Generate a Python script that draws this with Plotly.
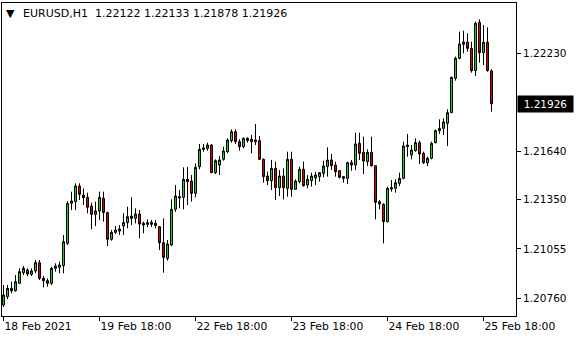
import plotly.graph_objects as go

# Hourly EURUSD candles (H1), oldest first
opens = [1.20718,1.20768,1.20818,1.20804,1.20848,1.20912,1.20928,1.20902,1.20922,1.20972,
         1.20878,1.20864,1.20848,1.20938,1.20944,1.20954,1.21088,1.21328,1.21338,1.21432,
         1.21378,1.21364,1.21312,1.21262,1.21282,1.21358,1.21272,1.21112,1.21154,1.21162,
         1.21192,1.21212,1.21252,1.21238,1.21264,1.21208,1.21202,1.21202,1.21208,1.21188,
         1.21092,1.20998,1.21078,1.21292,1.21368,1.21364,1.21472,1.21462,1.21388,1.21548,
         1.21652,1.21658,1.21678,1.21512,1.21558,1.21592,1.21638,1.21704,1.21758,1.21698,
         1.21668,1.21704,1.21712,1.21698,1.21704,1.21592,1.21492,1.21464,1.21538,1.21422,
         1.21492,1.21418,1.21592,1.21412,1.21458,1.21532,1.21438,1.21464,1.21480,1.21488,
         1.21508,1.21548,1.21588,1.21558,1.21524,1.21488,1.21478,1.21572,1.21558,1.21688,
         1.21634,1.21578,1.21634,1.21554,1.21338,1.21322,1.21218,1.21414,1.21418,1.21448,
         1.21478,1.21668,1.21618,1.21644,1.21692,1.21628,1.21572,1.21598,1.21692,1.21764,
         1.21778,1.21808,1.21872,1.22078,1.22198,1.22282,1.22296,1.22258,1.22124,1.22414,
         1.22232,1.22294,1.22122]
highs = [1.20838,1.20838,1.20858,1.20898,1.20938,1.20952,1.20938,1.20938,1.20988,1.20988,
         1.20892,1.20878,1.20948,1.20968,1.20978,1.21138,1.21342,1.21398,1.21448,1.21448,
         1.21418,1.21392,1.21332,1.21338,1.21398,1.21398,1.21278,1.21168,1.21192,1.21198,
         1.21268,1.21308,1.21364,1.21298,1.21288,1.21218,1.21232,1.21228,1.21228,1.21192,
         1.21238,1.21108,1.21352,1.21438,1.21408,1.21544,1.21546,1.21498,1.21568,1.21684,
         1.21684,1.21692,1.21684,1.21592,1.21612,1.21668,1.21718,1.21772,1.21772,1.21712,
         1.21724,1.21724,1.21738,1.21804,1.21732,1.21598,1.21518,1.21588,1.21578,1.21528,
         1.21538,1.21638,1.21638,1.21472,1.21548,1.21578,1.21498,1.21512,1.21518,1.21516,
         1.21584,1.21664,1.21624,1.21578,1.21528,1.21492,1.21578,1.21588,1.21752,1.21752,
         1.21728,1.21652,1.21728,1.21554,1.21348,1.21328,1.21428,1.21468,1.21472,1.21512,
         1.21698,1.21744,1.21678,1.21718,1.21704,1.21638,1.21608,1.21698,1.21772,1.21832,
         1.21838,1.21892,1.22088,1.22208,1.22358,1.22364,1.22348,1.22298,1.22418,1.22432,
         1.22398,1.22384,1.22133]
lows = [1.20706,1.20754,1.20788,1.20798,1.20844,1.20898,1.20892,1.20892,1.20908,1.20868,
        1.20824,1.20828,1.20838,1.20918,1.20908,1.20908,1.21078,1.21288,1.21288,1.21348,
        1.21318,1.21268,1.21172,1.21192,1.21228,1.21218,1.21072,1.21104,1.21144,1.21138,
        1.21138,1.21178,1.21198,1.21208,1.21118,1.21148,1.21184,1.21186,1.21178,1.21048,
        1.20912,1.20984,1.21072,1.21276,1.21298,1.21292,1.21318,1.21338,1.21364,1.21532,
        1.21638,1.21644,1.21510,1.21504,1.21498,1.21584,1.21628,1.21692,1.21684,1.21644,
        1.21658,1.21692,1.21628,1.21678,1.21588,1.21452,1.21438,1.21408,1.21348,1.21372,
        1.21352,1.21368,1.21368,1.21408,1.21448,1.21428,1.21418,1.21428,1.21438,1.21458,
        1.21484,1.21488,1.21528,1.21488,1.21478,1.21452,1.21444,1.21524,1.21528,1.21588,
        1.21504,1.21552,1.21548,1.21232,1.21292,1.21088,1.21212,1.21398,1.21392,1.21432,
        1.21472,1.21608,1.21592,1.21638,1.21564,1.21564,1.21552,1.21592,1.21688,1.21744,
        1.21738,1.21672,1.21870,1.22064,1.22192,1.22228,1.22238,1.22112,1.22092,1.22172,
        1.22158,1.22118,1.21878]
closes = [1.20778,1.20818,1.20804,1.20858,1.20918,1.20938,1.20904,1.20922,1.20972,1.20878,
          1.20864,1.20848,1.20938,1.20952,1.20958,1.21098,1.21328,1.21342,1.21432,1.21382,
          1.21362,1.21304,1.21262,1.21282,1.21364,1.21272,1.21112,1.21154,1.21168,1.21174,
          1.21212,1.21248,1.21238,1.21264,1.21204,1.21198,1.21212,1.21214,1.21194,1.21092,
          1.21004,1.21084,1.21292,1.21372,1.21360,1.21472,1.21458,1.21388,1.21544,1.21652,
          1.21660,1.21678,1.21512,1.21584,1.21588,1.21642,1.21708,1.21758,1.21698,1.21668,
          1.21718,1.21718,1.21698,1.21708,1.21592,1.21488,1.21464,1.21538,1.21422,1.21492,
          1.21422,1.21592,1.21412,1.21462,1.21532,1.21434,1.21472,1.21492,1.21498,1.21512,
          1.21552,1.21588,1.21554,1.21518,1.21484,1.21478,1.21572,1.21558,1.21684,1.21628,
          1.21582,1.21634,1.21554,1.21334,1.21324,1.21218,1.21418,1.21422,1.21452,1.21478,
          1.21672,1.21678,1.21648,1.21692,1.21624,1.21572,1.21598,1.21688,1.21764,1.21778,
          1.21816,1.21872,1.22084,1.22198,1.22284,1.22296,1.22258,1.22124,1.22408,1.22232,
          1.22294,1.22124,1.21926]
bar_index = list(range(len(opens)))

x_tick_bars = [0, 24, 48, 72, 96, 120]
x_tick_labels = ["18 Feb 2021", "19 Feb 18:00", "22 Feb 18:00",
                 "23 Feb 18:00", "24 Feb 18:00", "25 Feb 18:00"]
y_tick_values = [1.22230, 1.21640, 1.21350, 1.21055, 1.20760]
y_tick_labels = ["1.22230", "1.21640", "1.21350", "1.21055", "1.20760"]

symbol = "EURUSD,H1"
last_bar = [1.22122, 1.22133, 1.21878, 1.21926]
current_price = 1.21926

FONT = "DejaVu Sans"

fig = go.Figure()
fig.add_trace(go.Candlestick(
    x=bar_index, open=opens, high=highs, low=lows, close=closes,
    increasing=dict(line=dict(color="black", width=1), fillcolor="#32CD32"),
    decreasing=dict(line=dict(color="black", width=1), fillcolor="#E00000"),
    whiskerwidth=0, hoverinfo="skip", showlegend=False,
))

fig.update_layout(
    width=580, height=340,
    margin=dict(l=2, r=64, t=3, b=24),
    paper_bgcolor="white", plot_bgcolor="white",
    boxgap=0.3, boxgroupgap=0.3,
    font=dict(family=FONT, size=10, color="black"),
    xaxis=dict(
        range=[-0.375, 128.125], rangeslider=dict(visible=False),
        showgrid=False, zeroline=False,
        showline=True, mirror=True, linecolor="black", linewidth=1,
        tickmode="array", tickvals=x_tick_bars, ticktext=x_tick_labels,
        ticks="outside", ticklen=4, tickcolor="black", tickwidth=1,
        ticklabelposition="outside right",
        tickfont=dict(family=FONT, size=10.8, color="black"),
    ),
    yaxis=dict(
        range=[1.20652, 1.22530], side="right",
        showgrid=False, zeroline=False,
        showline=True, mirror=True, linecolor="black", linewidth=1,
        tickmode="array", tickvals=y_tick_values, ticktext=y_tick_labels,
        ticks="outside", ticklen=4, tickcolor="black", tickwidth=1,
        tickfont=dict(family=FONT, size=10.5, color="black"),
    ),
)

header = "\u00a0\u00a0".join([symbol, " ".join(f"{v:.5f}" for v in last_bar)])
fig.add_annotation(xref="paper", yref="paper", x=0, y=1, xanchor="left", yanchor="top",
                   xshift=2, yshift=-2, showarrow=False,
                   text="\u25BC", font=dict(family=FONT, size=11, color="black"))
fig.add_annotation(xref="paper", yref="paper", x=0, y=1, xanchor="left", yanchor="top",
                   xshift=19, yshift=-2, showarrow=False,
                   text=header, font=dict(family=FONT, size=11, color="black"))
fig.add_annotation(xref="paper", yref="y", x=1, y=current_price, xanchor="left", yanchor="middle",
                   xshift=1, showarrow=False, text=f"{current_price:.5f}",
                   bgcolor="black", borderpad=2, width=51,
                   font=dict(family=FONT, size=10.5, color="white"))

fig.write_html("out.html")
